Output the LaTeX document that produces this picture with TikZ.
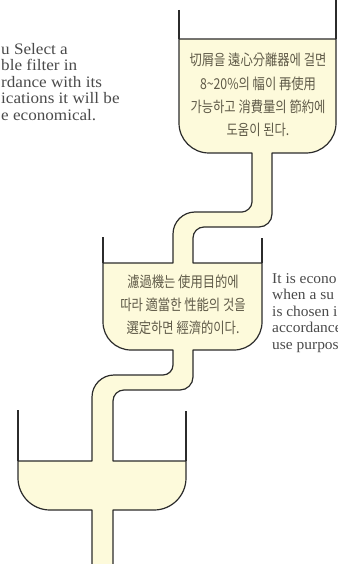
\documentclass[tikz,border=0pt]{standalone}
\usepackage{fontspec}
\setmainfont{Liberation Serif}
\newfontfamily\kr[FakeStretch=0.82]{Noto Sans CJK KR}
\newfontfamily\entext[FakeStretch=1.07]{Liberation Serif}
\newfontfamily\entextr[FakeStretch=1.03]{Liberation Serif}
\definecolor{cream}{HTML}{FDFADB}
\definecolor{wallc}{HTML}{2B2B2B}
\definecolor{engray}{HTML}{4A4A4A}
\definecolor{krcol}{HTML}{5F5A48}
\tikzset{
  fluid/.style={fill=cream, draw=wallc, line width=1.2pt, line join=round},
  wallline/.style={draw=wallc, line width=1.2pt},
  entxt/.style={anchor=west, align=left, font=\entext\fontsize{16}{16.5}\selectfont, text=engray, inner sep=0pt},
  entxtr/.style={anchor=west, align=left, font=\entextr\fontsize{15}{16.5}\selectfont, text=engray, inner sep=0pt},
  krtxt/.style={align=center, font=\kr\fontsize{15}{23.2}\selectfont, text=krcol, inner sep=0pt}
}
\begin{document}
\begin{tikzpicture}[x=1pt,y=-1pt]
\useasboundingbox (0,0) rectangle (337,564);
\clip (0,0) rectangle (337,564);
% fluid body with pipes
\path[fluid] (179,39) -- (336,39) -- (336,123)
 .. controls (336,139.6) and (322.6,153) .. (306,153)
 -- (272,153) -- (272,214)
 .. controls (272,221.2) and (266.2,227) .. (259,227)
 -- (204,227)
 .. controls (197.9,227) and (193,231.9) .. (193,238)
 -- (193,263) -- (262,263) -- (262,322)
 .. controls (262,337.5) and (249.5,350) .. (234,350)
 -- (193,350) -- (193,377)
 .. controls (193,384.2) and (187.2,390) .. (180,390)
 -- (124,390)
 .. controls (117.9,390) and (113,394.9) .. (113,401)
 -- (113,461) -- (186,461) -- (186,478)
 .. controls (186,495.7) and (171.7,510) .. (154,510)
 -- (113,510) -- (113,570) -- (92,570) -- (92,510) -- (50,510)
 .. controls (32.3,510) and (18,495.7) .. (18,478)
 -- (18,461) -- (92,461) -- (92,397)
 .. controls (92,384.9) and (101.9,375) .. (114,375)
 -- (163,375)
 .. controls (168.5,375) and (173,370.5) .. (173,365)
 -- (173,350) -- (131,350)
 .. controls (115.5,350) and (103,337.5) .. (103,322)
 -- (103,263) -- (173,263) -- (173,234)
 .. controls (173,221.9) and (182.9,212) .. (195,212)
 -- (242,212)
 .. controls (246.5,212) and (252,207.5) .. (252,202)
 -- (252,153) -- (209,153)
 .. controls (192.4,153) and (179,139.6) .. (179,123)
 -- cycle;
% vessel walls above liquid
\draw[wallline] (179,10) -- (179,39);
\draw[wallline] (336,0) -- (336,39);
\draw[wallline] (103,237) -- (103,263);
\draw[wallline] (262,238) -- (262,263);
\draw[wallline] (18,410) -- (18,461);
\draw[wallline] (186,411) -- (186,461);
% Korean texts
\node[krtxt] (toptext) at (258,95) {切屑을 遠心分離器에 걸면\\8\textasciitilde20\%의 幅이 再使用\\가능하고 消費量의 節約에\\도움이 된다.};
\node[krtxt] (midtext) at (183,305) {濾過機는 使用目的에\\따라 適當한 性能의 것을\\選定하면 經濟的이다.};
% English texts
\node[entxt] (lefttext) at (1,82) {u Select a\\ble filter in\\rdance with its\\ications it will be\\e economical.};
\node[entxtr] (righttext) at (272,313) {It is econo\\when a su\\is chosen i\\accordance\\use purpos};
\end{tikzpicture}
\end{document}
